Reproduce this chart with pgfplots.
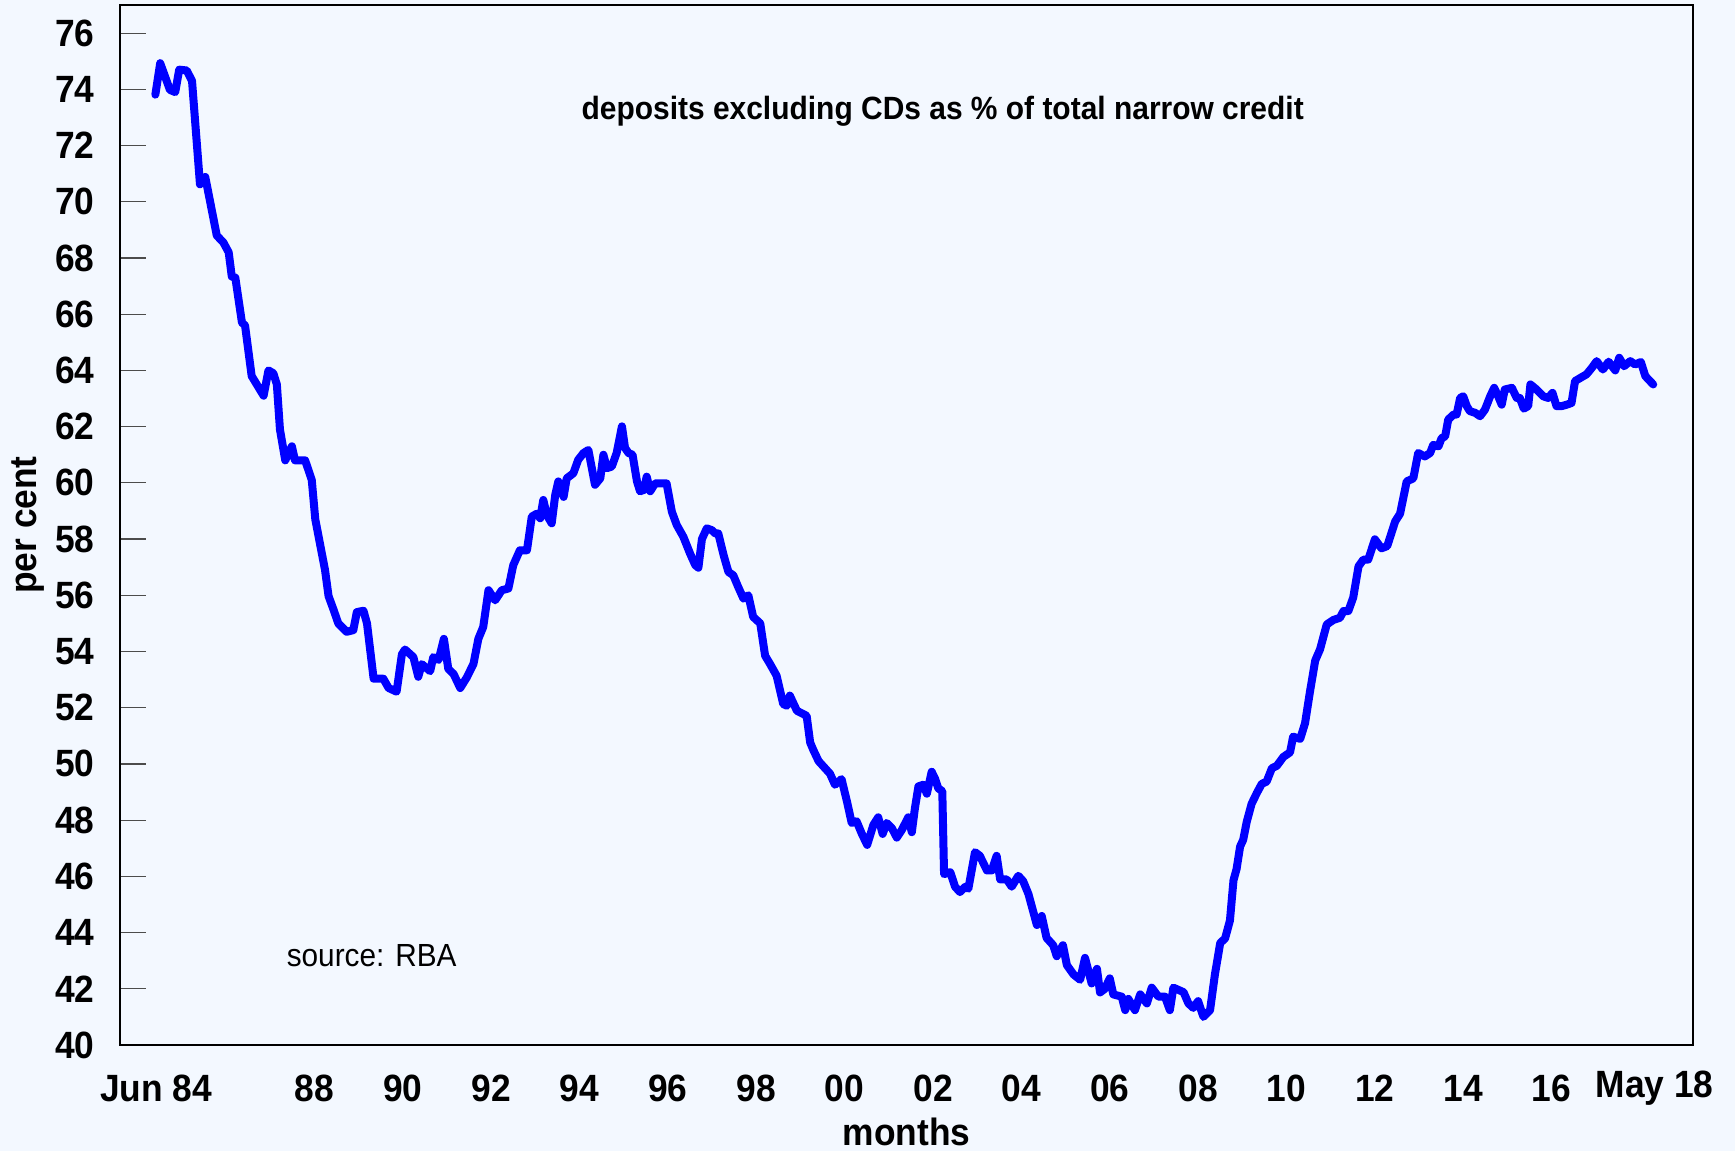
\documentclass[border=0pt]{standalone}
\usepackage{fontspec}
\setmainfont{Liberation Sans}[FakeStretch=0.93]
\usepackage{pgfplots}
\usepackage{pgfplotstable}
\pgfplotsset{compat=1.18}
\definecolor{bgblue}{RGB}{243,248,255}
\definecolor{lineblue}{RGB}{0,0,255}

\pgfplotstableread{
x y
1984.40 73.81
1984.51 74.93
1984.73 73.98
1984.85 73.90
1984.94 74.70
1985.11 74.67
1985.23 74.30
1985.41 70.62
1985.53 70.88
1985.64 70.00
1985.79 68.80
1985.94 68.55
1986.06 68.20
1986.13 67.34
1986.21 67.30
1986.36 65.70
1986.43 65.60
1986.58 63.80
1986.85 63.10
1986.96 64.00
1987.07 63.90
1987.15 63.50
1987.22 61.90
1987.34 60.80
1987.49 61.30
1987.56 60.80
1987.79 60.80
1987.94 60.10
1988.02 58.70
1988.13 57.80
1988.24 56.90
1988.32 55.97
1988.43 55.50
1988.54 55.00
1988.73 54.70
1988.88 54.76
1988.96 55.40
1989.11 55.45
1989.19 55.00
1989.34 53.03
1989.56 53.03
1989.68 52.70
1989.86 52.57
1989.98 53.90
1990.05 54.07
1990.24 53.80
1990.35 53.10
1990.43 53.55
1990.62 53.30
1990.69 53.80
1990.81 53.70
1990.93 54.45
1991.03 53.38
1991.15 53.20
1991.30 52.70
1991.45 53.08
1991.60 53.56
1991.71 54.45
1991.82 54.87
1991.94 56.18
1992.09 55.82
1992.24 56.18
1992.39 56.24
1992.50 57.07
1992.65 57.60
1992.81 57.60
1992.92 58.80
1993.03 58.90
1993.11 58.74
1993.18 59.39
1993.26 58.85
1993.37 58.56
1993.45 59.57
1993.52 60.05
1993.64 59.50
1993.71 60.16
1993.86 60.34
1993.97 60.82
1994.09 61.06
1994.20 61.17
1994.35 59.93
1994.47 60.16
1994.54 61.00
1994.62 60.52
1994.73 60.58
1994.84 61.06
1994.96 62.01
1995.03 61.24
1995.11 61.06
1995.20 61.00
1995.30 60.05
1995.37 59.70
1995.46 59.75
1995.52 60.22
1995.60 59.70
1995.71 59.98
1995.86 59.98
1995.97 59.98
1996.09 58.97
1996.20 58.50
1996.35 58.08
1996.50 57.49
1996.62 57.07
1996.69 56.98
1996.77 58.00
1996.88 58.38
1996.99 58.32
1997.07 58.20
1997.14 58.20
1997.26 57.43
1997.37 56.83
1997.48 56.71
1997.59 56.30
1997.71 55.88
1997.82 56.00
1997.93 55.23
1998.09 55.00
1998.20 53.85
1998.31 53.56
1998.46 53.14
1998.61 52.13
1998.69 52.07
1998.76 52.43
1998.92 51.89
1999.07 51.77
1999.14 51.71
1999.22 50.76
1999.29 50.50
1999.41 50.10
1999.52 49.91
1999.67 49.65
1999.78 49.26
1999.93 49.46
2000.05 48.68
2000.16 47.90
2000.27 47.96
2000.39 47.51
2000.51 47.12
2000.65 47.83
2000.76 48.10
2000.86 47.51
2000.95 47.90
2001.07 47.71
2001.18 47.38
2001.29 47.64
2001.44 48.10
2001.52 47.57
2001.59 48.42
2001.67 49.20
2001.78 49.26
2001.86 48.94
2001.97 49.72
2002.05 49.46
2002.12 49.13
2002.21 49.03
2002.25 46.08
2002.39 46.15
2002.50 45.63
2002.61 45.44
2002.73 45.63
2002.80 45.56
2002.95 46.86
2003.06 46.73
2003.22 46.21
2003.33 46.21
2003.44 46.73
2003.52 45.89
2003.67 45.89
2003.78 45.63
2003.93 46.02
2004.04 45.83
2004.16 45.37
2004.35 44.27
2004.46 44.59
2004.57 43.81
2004.72 43.55
2004.80 43.16
2004.94 43.55
2005.03 42.84
2005.18 42.51
2005.33 42.32
2005.44 43.10
2005.59 42.19
2005.71 42.71
2005.78 41.87
2005.89 42.00
2006.00 42.37
2006.08 41.80
2006.27 41.72
2006.35 41.24
2006.42 41.64
2006.57 41.24
2006.69 41.80
2006.84 41.48
2006.95 42.04
2007.10 41.72
2007.25 41.72
2007.36 41.24
2007.44 42.04
2007.67 41.88
2007.78 41.48
2007.89 41.32
2008.00 41.56
2008.12 41.00
2008.27 41.24
2008.38 42.51
2008.50 43.63
2008.61 43.79
2008.72 44.43
2008.80 45.86
2008.87 46.26
2008.95 47.06
2009.02 47.30
2009.10 47.94
2009.21 48.58
2009.33 48.97
2009.44 49.29
2009.55 49.37
2009.67 49.85
2009.78 49.93
2009.93 50.25
2010.08 50.41
2010.15 50.97
2010.31 50.89
2010.42 51.45
2010.53 52.56
2010.65 53.68
2010.76 54.08
2010.91 54.96
2011.06 55.12
2011.21 55.20
2011.29 55.44
2011.40 55.44
2011.51 55.92
2011.63 57.03
2011.74 57.27
2011.85 57.27
2012.00 57.99
2012.15 57.67
2012.28 57.75
2012.46 58.63
2012.57 58.90
2012.72 60.05
2012.87 60.16
2012.98 61.06
2013.13 60.94
2013.25 61.06
2013.32 61.35
2013.44 61.30
2013.51 61.59
2013.59 61.65
2013.66 62.25
2013.78 62.43
2013.85 62.43
2013.93 63.02
2014.00 63.08
2014.08 62.73
2014.15 62.55
2014.27 62.49
2014.38 62.37
2014.49 62.60
2014.61 63.08
2014.70 63.38
2014.79 63.08
2014.87 62.78
2014.94 63.32
2015.10 63.38
2015.21 63.02
2015.28 63.02
2015.37 62.64
2015.47 62.73
2015.52 63.50
2015.66 63.32
2015.81 63.08
2015.92 63.02
2016.02 63.20
2016.11 62.73
2016.23 62.73
2016.34 62.78
2016.45 62.84
2016.53 63.62
2016.68 63.76
2016.79 63.86
2016.91 64.09
2017.02 64.33
2017.16 64.03
2017.29 64.31
2017.44 64.00
2017.53 64.45
2017.64 64.15
2017.78 64.33
2017.89 64.21
2018.02 64.30
2018.12 63.80
2018.19 63.68
2018.30 63.50
}\deposits

\begin{document}
\begin{tikzpicture}
\fill[bgblue] (0,0) rectangle (867.5pt,575.5pt);
\useasboundingbox (0,0) rectangle (867.5pt,575.5pt);
\begin{axis}[
  at={(60pt,53pt)}, anchor=south west,
  width=786.5pt, height=520pt, scale only axis,
  xmin=1983.6, xmax=2019.2, ymin=40, ymax=77,
  axis line style={line width=0.8pt, black},
  xtick={1984.42,1988,1990,1992,1994,1996,1998,2000,2002,2004,2006,2008,2010,2012,2014,2016,2018.33},
  xticklabels={Jun 84,88,90,92,94,96,98,00,02,04,06,08,10,12,14,16,May 18},
  ytick={40,42,...,76},
  ytick pos=left, tick align=inside,
  major tick length=13pt,
  x tick style={draw=none},
  y tick style={line width=0.6pt, draw=black!70},
  ticklabel style={font=\fontsize{19}{22}\selectfont\bfseries},
  /pgf/number format/assume math mode=true,
  yticklabel style={anchor=east, inner sep=0pt, xshift=-12.5pt},
  xticklabel style={anchor=center, inner sep=0pt, yshift=-21.5pt},
  clip=false,
]
\addplot[lineblue, line width=4pt, line join=round, line cap=round] table[x=x,y=y] {\deposits};
\node[font=\fontsize{16.1}{19}\selectfont\bfseries] at (rel axis cs:0.523,0.898) {deposits excluding CDs as \% of total narrow credit};
\node[font=\fontsize{16}{19}\selectfont] at (rel axis cs:0.160,0.0856) {source: RBA};
\node[font=\fontsize{19}{22}\selectfont\bfseries] at (rel axis cs:0.5,-0.0837) {months};
\node[rotate=90, font=\fontsize{19}{22}\selectfont\bfseries] at (rel axis cs:-0.0587,0.5) {per cent};
\end{axis}
\end{tikzpicture}
\end{document}
